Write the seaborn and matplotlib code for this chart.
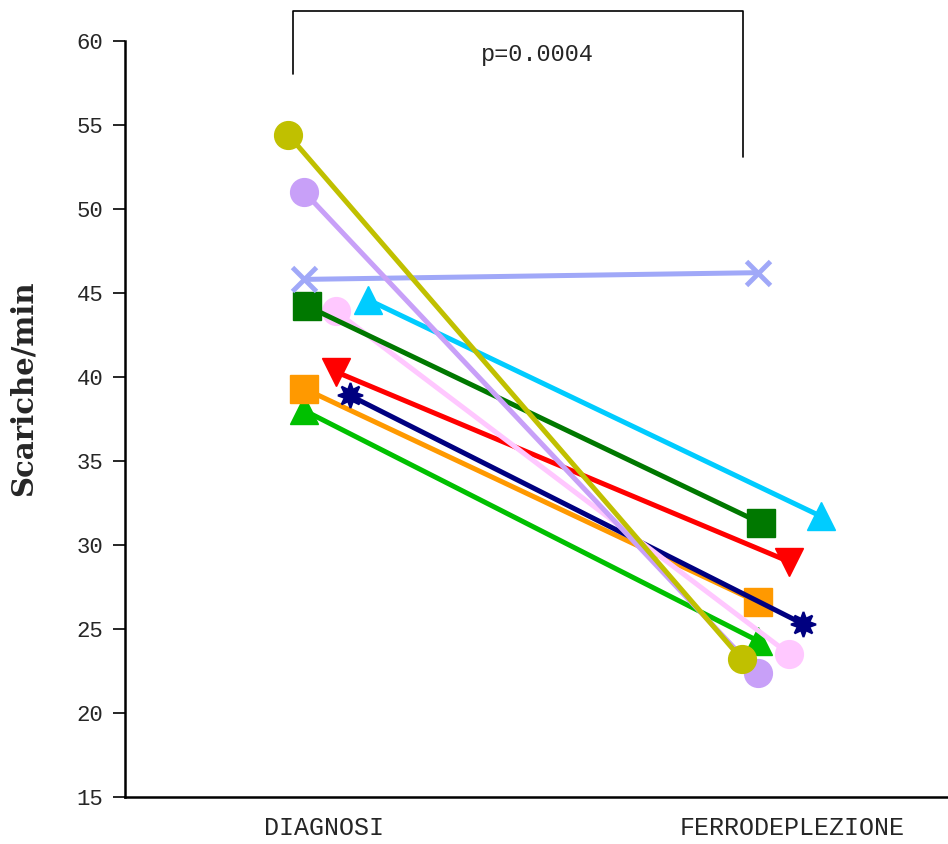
import numpy as np
import pandas as pd
import matplotlib
matplotlib.use("Agg")
import matplotlib.pyplot as plt
import seaborn as sns

# discharges per minute for each patient: at diagnosis and after iron depletion
phases = ["DIAGNOSI", "FERRODEPLEZIONE"]
diagnosi = [38.0, 39.3, 38.9, 40.3, 44.6, 43.9, 44.2, 45.8, 51.0, 54.4]
ferrodeplezione = [24.3, 26.6, 25.3, 29.0, 31.7, 23.5, 31.3, 46.2, 22.4, 23.2]
p_label = "p=0.0004"

# look of each patient (drawing order = list order)
colors = ["#00C000", "#FF9900", "#000080", "#FF0000", "#00CCFF",
          "#FFC8FF", "#007800", "#A0A8F8", "#C8A0F8", "#C0C000"]
markers = ["^", "s", (8, 1, 0), "v", "^", "o", "s", "x", "o", "o"]
jitter = [0.0, 0.0, 0.10, 0.07, 0.14, 0.07, 0.007, 0.0, 0.0, -0.035]

sns.set_style("ticks")
plt.rcParams["font.family"] = ["Liberation Mono", "DejaVu Sans"]

fig = plt.figure(figsize=(9.48, 8.44), dpi=100)
ax = fig.add_axes([0.132, 0.0557, 0.868, 0.896])

for i in range(len(diagnosi)):
    xs = np.arange(len(phases)) + jitter[i]
    ys = [diagnosi[i], ferrodeplezione[i]]
    m = markers[i]
    if m == "x":
        size, mew = 17, 3.5
    elif m in ("s", "o"):
        size, mew = 20, 1
    elif isinstance(m, tuple):
        size, mew = 18, 1.5
    else:
        size, mew = 20, 1
    sns.lineplot(x=xs, y=ys, color=colors[i], marker=m, markersize=size,
                 markeredgecolor=colors[i], markeredgewidth=mew, linewidth=3.6,
                 estimator=None, sort=False, ax=ax, legend=False)

# significance bracket
bx0, bx1 = -0.024, 0.967
ax.plot([bx0, bx0, bx1, bx1], [58.0, 61.8, 61.8, 53.1], color="black",
        linewidth=1.2, clip_on=False)
ax.text(0.515, 59.2, p_label, ha="center", va="center", fontsize=17)

ax.set_xlim(-0.395, 1.42)
ax.set_ylim(15, 60)
ax.set_yticks(np.arange(15, 61, 5))
ax.set_xticks([0.044, 1.077])
ax.set_xticklabels(phases, fontsize=18)
ax.tick_params(axis="x", length=0, pad=14)
ax.tick_params(axis="y", direction="out", length=8.6, width=1.4, labelsize=16, pad=7)

ax.set_ylabel("Scariche/min", fontsize=21, fontweight="bold",
              family=["DejaVu Serif"])
ax.yaxis.set_label_coords(-0.106, 0.541)
ax.set_xlabel("")

for side in ["top", "right"]:
    ax.spines[side].set_visible(False)
for side in ["left", "bottom"]:
    ax.spines[side].set_linewidth(1.8)
    ax.spines[side].set_color("black")

fig.savefig("out.png", dpi=100)
plt.close()
